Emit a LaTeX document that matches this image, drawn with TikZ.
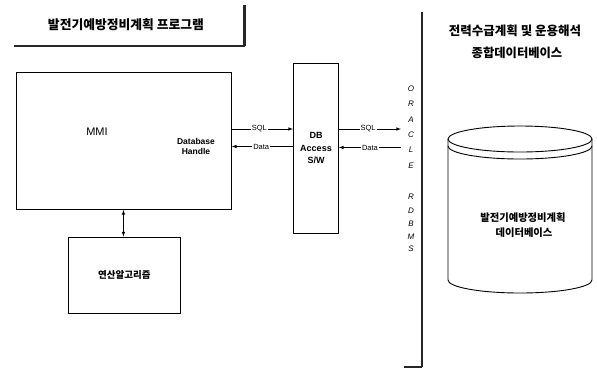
\documentclass[tikz,border=0pt]{standalone}
\usepackage{fontspec}
\setmainfont{Liberation Sans}
\newfontfamily\kr{Noto Sans CJK KR}
\usetikzlibrary{positioning}

\begin{document}
\begin{tikzpicture}[x=1pt, y=-1pt,
    box/.style={draw, line width=0.9pt, inner sep=0pt, anchor=north west},
    krtext/.style={font=\kr\bfseries\fontsize{#1}{#1}\selectfont, inner sep=0pt},
    flowlabel/.style={font=\fontsize{7.5}{8}\selectfont, fill=white, inner sep=1pt},
    scanbar/.style={black!85, line width=2.6pt}]

% Define bounding box of the page
\useasboundingbox (0,0) rectangle (597,368);

% Title of the program part with its bracket
\node[krtext=12.8] (progTitle) at (126,25) {발전기예방정비계획 프로그램};
\coordinate (titleLeft) at (14,45.5);
\coordinate (titleCorner) at (244.5,45.5);
\coordinate (titleTop) at (244.5,5);
\draw[scanbar, line width=2pt] (titleLeft) -- (titleCorner);
\draw[scanbar] (titleCorner) -- (titleTop);

% Draw MMI box
\node[box, minimum width=215pt, minimum height=137pt] (mmi) at (16,72) {};
\node[font=\fontsize{11}{12}\selectfont] (mmiText) at (97,132) {MMI};
\node[font=\bfseries\fontsize{8.5}{10}\selectfont, align=center, inner sep=0pt] (dbHandle) at (196,146) {Database\\Handle};

% Draw algorithm box
\node[box, minimum width=112pt, minimum height=76pt] (algo) at (68,236.5) {};
\node[krtext=9.5] (algoText) at (algo.center) {연산알고리즘};

% Draw DB Access S/W box
\node[box, minimum width=45pt, minimum height=170pt] (dbsw) at (293,63) {};
\node[font=\bfseries\fontsize{9}{12.5}\selectfont, align=center, inner sep=0pt] (dbswText) at (316,148) {DB\\Access\\S/W};

% Rows of the SQL and Data arrows
\coordinate (sqlRow) at (0,129);
\coordinate (dataRow) at (0,146.5);
\coordinate (rdbmsSql) at (401,129);
\coordinate (rdbmsData) at (401,147.5);

% Draw arrows between MMI and DB Access S/W
\draw[-latex, line width=0.6pt] (mmi.east |- sqlRow) -- (dbsw.west |- sqlRow) node[flowlabel, pos=0.45] {SQL};
\draw[-latex, line width=0.6pt] (dbsw.west |- dataRow) -- (mmi.east |- dataRow) node[flowlabel, pos=0.52] {Data};

% Draw arrows between DB Access S/W and RDBMS
\draw[-latex, line width=0.6pt] (dbsw.east |- rdbmsSql) -- (rdbmsSql) node[flowlabel, pos=0.47] {SQL};
\draw[-latex, line width=0.6pt] (rdbmsData) -- (dbsw.east |- rdbmsData) node[flowlabel, pos=0.5] {Data};

% Draw two-way arrow between MMI and algorithm
\draw[latex-latex, line width=0.6pt] (mmi.south -| algo.north) ++(-1,0) coordinate (arrowTop) -- (arrowTop |- algo.north);

% ORACLE RDBMS wall
\coordinate (wallTop) at (422,12);
\coordinate (wallBottom) at (422,367);
\coordinate (wallFoot) at (404,367);
\draw[scanbar] (wallTop) -- (wallBottom);
\draw[black!85, line width=1.2pt] (wallFoot) -- (wallBottom);
\foreach \letter/\ypos [count=\i] in {O/89, R/104, A/120, C/135, L/150, E/166, R/197, D/211, B/224, M/237, S/249}
  \node[font=\itshape\fontsize{8}{8}\selectfont, inner sep=0pt] (rdbms\i) at (411,\ypos) {\letter};

% Title of the database part
\node[krtext=12.5] (dbTitleA) at (515,31) {전력수급계획 및 운용해석};
\node[krtext=12.3] (dbTitleB) at (517,53) {종합데이터베이스};

% Draw database cylinder
\draw[line width=0.9pt] (520,139) ellipse [x radius=72pt, y radius=13pt];
\draw[line width=0.9pt] (448,146) arc [start angle=180, end angle=360, x radius=72pt, y radius=13pt];
\draw[line width=0.9pt] (448,139) -- (448,280) arc [start angle=180, end angle=360, x radius=72pt, y radius=13pt] -- (592,139);
\node[krtext=10.3] (cylTextA) at (523,218) {발전기예방정비계획};
\node[krtext=10.3] (cylTextB) at (524,233) {데이터베이스};

\end{tikzpicture}
\end{document}
